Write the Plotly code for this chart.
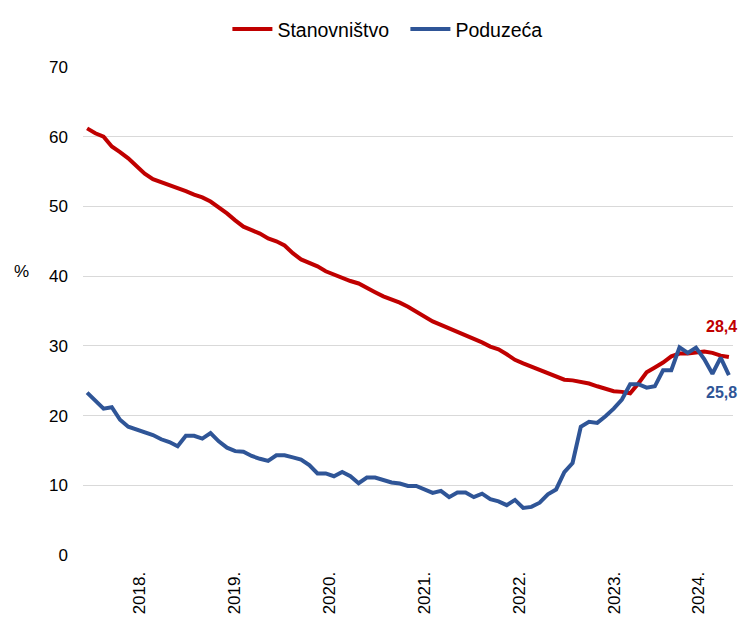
import plotly.graph_objects as go
import pandas as pd

months = pd.date_range("2018-01-01", periods=79, freq="MS")

stanovnistvo = [61.2, 60.5, 60.0, 58.6, 57.8, 56.9, 55.8, 54.7, 53.9, 53.5,
                53.0, 52.6, 52.2, 51.7, 51.3, 50.7, 49.9, 49.0, 48.0, 47.1,
                46.6, 46.1, 45.4, 45.0, 44.4, 43.3, 42.4, 41.9, 41.4, 40.7,
                40.2, 39.7, 39.3, 38.95, 38.25, 37.7, 37.1, 36.7, 36.2, 35.6,
                34.9, 34.1, 33.5, 33.0, 32.5, 32.1, 31.6, 31.1, 30.5, 29.9,
                29.5, 28.8, 28.0, 27.5, 27.0, 26.6, 26.0, 25.5, 25.15, 25.05,
                24.8, 24.6, 24.2, 23.8, 23.5, 23.4, 23.2, 24.6, 26.2, 26.9,
                27.6, 28.5, 28.9, 28.9, 29.0, 29.2, 29.0, 28.6, 28.4]

poduzeca = [23.3, 22.2, 21.0, 21.2, 19.4, 18.4, 18.0, 17.6, 17.2, 16.6,
            16.2, 15.6, 17.1, 17.1, 16.7, 17.5, 16.3, 15.4, 14.9, 14.8,
            14.2, 13.8, 13.5, 14.3, 14.3, 14.0, 13.7, 12.9, 11.7, 11.7,
            11.3, 11.9, 11.3, 10.3, 11.1, 11.1, 10.8, 10.4, 10.25, 9.9,
            9.9, 9.4, 8.9, 9.2, 8.3, 8.95, 8.95, 8.3, 8.8, 8.0,
            7.7, 7.15, 7.9, 6.75, 6.9, 7.5, 8.7, 9.4, 11.9, 13.2,
            18.4, 19.1, 18.95, 19.9, 21.0, 22.3, 24.5, 24.5, 24.0, 24.2,
            26.5, 26.5, 29.8, 29.0, 29.75, 28.1, 26.0, 28.3, 25.8]

series_names = ["Stanovništvo", "Poduzeća"]
colors = ["#C00000", "#2F5597"]
last_labels = ["28,4", "25,8"]

# year tick labels and their positions (in month-index units)
year_ticks = ["2018.", "2019.", "2020.", "2021.", "2022.", "2023.", "2024."]
year_tick_pos = [6.4, 17.9, 29.4, 41.0, 52.5, 64.1, 74.3]

idx = list(range(len(months)))

font_family = "Liberation Sans, Arial, sans-serif"

fig = go.Figure()
for name, vals, col in zip(series_names, [stanovnistvo, poduzeca], colors):
    fig.add_trace(go.Scatter(
        x=idx, y=vals, mode="lines", name=name,
        line=dict(color=col, width=4),
        customdata=[m.strftime("%m/%Y") for m in months],
        hovertemplate="%{customdata}: %{y:.1f}<extra>" + name + "</extra>",
    ))

# end-of-series data labels
fig.add_annotation(x=idx[-1], y=stanovnistvo[-1], text=last_labels[0], showarrow=False,
                   xshift=-7, yshift=31,
                   font=dict(family=font_family, size=16, color=colors[0], weight="bold"))
fig.add_annotation(x=idx[-1], y=poduzeca[-1], text=last_labels[1], showarrow=False,
                   xshift=-7, yshift=-17,
                   font=dict(family=font_family, size=16, color=colors[1], weight="bold"))

fig.add_annotation(xref="paper", yref="paper", x=-0.095, y=0.58, text="%",
                   showarrow=False, xanchor="center",
                   font=dict(family=font_family, size=17, color="#000000"))

fig.update_layout(
    width=740, height=618,
    margin=dict(l=83, r=7, t=67, b=63, autoexpand=False),
    paper_bgcolor="white", plot_bgcolor="white",
    font=dict(family=font_family, size=17, color="#000000"),
    showlegend=True,
    legend=dict(orientation="h", x=0.496, xanchor="center", y=1.117, yanchor="top",
                font=dict(family=font_family, size=19.5),
                itemwidth=40, entrywidth=123, tracegroupgap=0),
    xaxis=dict(range=[-0.5, len(idx) - 0.5], tickvals=year_tick_pos, ticktext=year_ticks,
               tickangle=-90, showgrid=False, zeroline=False, showline=False,
               ticks="outside", ticklen=9, tickcolor="rgba(0,0,0,0)",
               tickfont=dict(size=17, color="#000000")),
    yaxis=dict(range=[0, 70], dtick=10, showgrid=True, gridcolor="#D9D9D9", gridwidth=1.3,
               zeroline=False, showline=False, ticks="", ticklabelstandoff=14,
               tickfont=dict(size=17, color="#000000")),
)

fig.write_html(
    "out.html",
    config={"displayModeBar": False},
    post_script="document.body.style.margin='0';document.body.style.overflow='hidden';",
)
